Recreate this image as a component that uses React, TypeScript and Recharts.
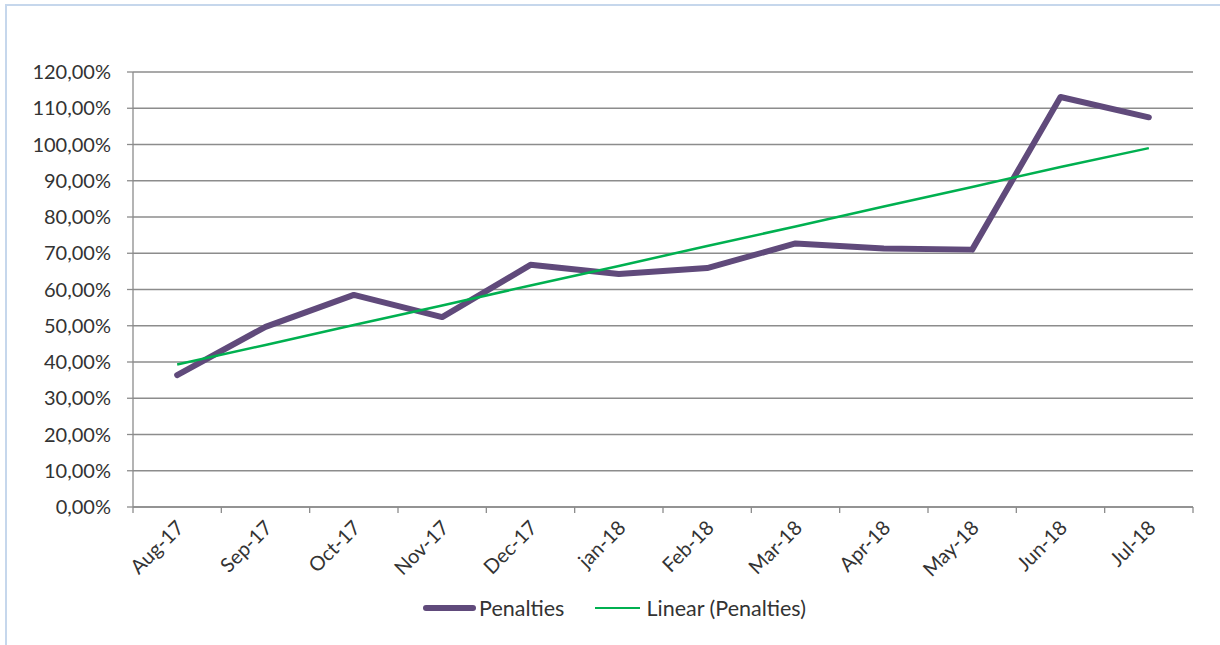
import React from "react";
import {
  LineChart,
  Line,
  XAxis,
  YAxis,
  CartesianGrid,
  Legend,
} from "recharts";

const months = [
  "Aug-17", "Sep-17", "Oct-17", "Nov-17", "Dec-17", "jan-18",
  "Feb-18", "Mar-18", "Apr-18", "May-18", "Jun-18", "Jul-18",
];
const penalties = [0.364, 0.497, 0.585, 0.524, 0.668, 0.643, 0.659, 0.727, 0.713, 0.71, 1.131, 1.075];
// trend line
const linearPenalties = [0.393, 0.447, 0.502, 0.556, 0.611, 0.665, 0.72, 0.774, 0.829, 0.883, 0.938, 0.99];
const yTicks = [0, 0.1, 0.2, 0.3, 0.4, 0.5, 0.6, 0.7, 0.8, 0.9, 1.0, 1.1, 1.2];

const data = months.map((m, i) => ({
  month: m,
  penalties: penalties[i],
  linear: linearPenalties[i],
}));

const PURPLE = "#604a7b";
const GREEN = "#00b050";
const GRID = "#8c8c8c";
const TEXT = "#333333";
const FONT = "Lato, 'Open Sans', sans-serif";

const pct = (v: number) => (v * 100).toFixed(2).replace(".", ",") + "%";

function MonthTick(props: any) {
  const { x, y, payload, index } = props;
  const half = payload.offset || 0;
  const last = index === months.length - 1;
  const tx = x + 8;
  const ty = y + 14;
  return (
    <g>
      <line x1={x - half} y1={y - 8} x2={x - half} y2={y - 2} stroke={GRID} strokeWidth={1.3} />
      {last && <line x1={x + half} y1={y - 8} x2={x + half} y2={y - 2} stroke={GRID} strokeWidth={1.3} />}
      <text
        x={tx}
        y={ty}
        transform={`rotate(-45, ${tx}, ${ty})`}
        textAnchor="end"
        fontSize={20}
        fontFamily={FONT}
        fill={TEXT}
      >
        {payload.value}
      </text>
    </g>
  );
}

function LegendContent() {
  return (
    <div
      style={{
        display: "flex",
        justifyContent: "center",
        alignItems: "center",
        fontFamily: FONT,
        fontSize: 21.5,
        color: TEXT,
        transform: "translateX(18px)",
        height: 40,
      }}
    >
      <svg width={54} height={10}>
        <line x1={3} y1={5} x2={50} y2={5} stroke={PURPLE} strokeWidth={6} strokeLinecap="round" />
      </svg>
      <span style={{ marginLeft: 2, marginRight: 30 }}>Penalties</span>
      <svg width={48} height={10}>
        <line x1={1} y1={5} x2={46} y2={5} stroke={GREEN} strokeWidth={2} />
      </svg>
      <span style={{ marginLeft: 4 }}>Linear (Penalties)</span>
    </div>
  );
}

export default function App() {
  return (
    <div style={{ position: "absolute", left: 0, top: 0, width: 1220, height: 645, background: "#fff" }}>
      <div
        style={{
          position: "absolute",
          left: 5,
          top: 4,
          right: 0,
          bottom: 0,
          borderTop: "2px solid #c6d7ec",
          borderLeft: "2px solid #c6d7ec",
        }}
      />
      <LineChart
        width={1220}
        height={645}
        data={data}
        margin={{ top: 72, right: 27, left: 0, bottom: 17 }}
      >
        <CartesianGrid vertical={false} stroke={GRID} strokeWidth={1.3} />
        <XAxis
          dataKey="month"
          scale="band"
          height={81}
          axisLine={{ stroke: GRID, strokeWidth: 1.3 }}
          tickLine={false}
          tick={<MonthTick />}
          interval={0}
        />
        <YAxis
          width={133}
          domain={[0, 1.2]}
          ticks={yTicks}
          tickFormatter={pct}
          axisLine={{ stroke: GRID, strokeWidth: 1.3 }}
          tickLine={{ stroke: GRID, strokeWidth: 1.3 }}
          tickSize={6}
          tickMargin={16}
          tick={{ fontSize: 20, fontFamily: FONT, fill: TEXT }}
          allowDataOverflow
        />
        <Legend verticalAlign="bottom" height={40} content={<LegendContent />} />
        <Line
          type="linear"
          dataKey="penalties"
          name="Penalties"
          stroke={PURPLE}
          strokeWidth={6}
          strokeLinecap="round"
          strokeLinejoin="round"
          dot={false}
          activeDot={false}
          isAnimationActive={false}
        />
        <Line
          type="linear"
          dataKey="linear"
          name="Linear (Penalties)"
          stroke={GREEN}
          strokeWidth={2.5}
          dot={false}
          activeDot={false}
          isAnimationActive={false}
        />
      </LineChart>
    </div>
  );
}
